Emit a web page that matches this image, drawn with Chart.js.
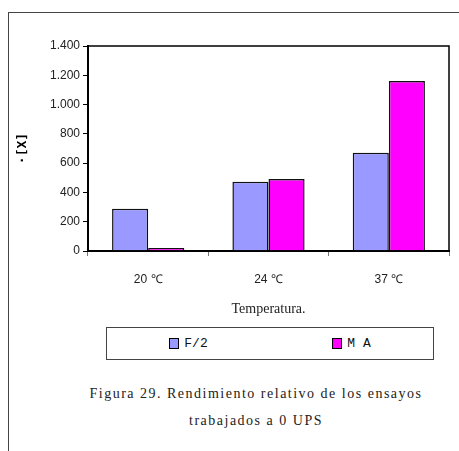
<!DOCTYPE html>
<html>
<head>
<meta charset="utf-8">
<script src="https://cdn.jsdelivr.net/npm/chart.js@4.4.1/dist/chart.umd.min.js"></script>
<style>
  html, body { margin: 0; padding: 0; background: #fff; }
  body { width: 459px; height: 451px; position: relative; overflow: hidden; }
  .frame {
    position: absolute; left: 8px; top: 12px; width: 460px; height: 450px;
    border-left: 1.5px solid #444; border-top: 1.5px solid #444;
  }
  .plot { position: absolute; left: 0; top: 0; width: 459px; height: 318px; }
  .legend {
    position: absolute; left: 106px; top: 327px; width: 326px; height: 31px;
    border: 1px solid #444; display: flex; align-items: center;
    font: 13px "Liberation Mono", monospace; color: #111;
  }
  .legend .item { flex: 1; display: flex; justify-content: center; align-items: center; }
  .legend .sw { width: 8px; height: 9px; border: 1.5px solid #000; margin-right: 5px; }
  .caption {
    position: absolute; left: 53px; width: 406px; top: 380px;
    text-align: center; font: 14px "Liberation Serif", serif; line-height: 27px;
    letter-spacing: 1.5px; color: #222;
  }
</style>
</head>
<body>
<div class="frame"></div>
<div class="plot"><canvas id="c"></canvas></div>
<div class="legend" id="legend"></div>
<div class="caption">Figura 29. Rendimiento relativo de los ensayos<br>trabajados a 0 UPS</div>
<script>
// Data
const categories = ["20 ℃", "24 ℃", "37 ℃"];
const seriesNames = ["F/2", "M A"];
const f2Values = [289, 473, 671];
const maValues = [20, 492, 1161];
const yTickLabels = ["0", "200", "400", "600", "800", "1.000", "1.200", "1.400"];
const xTitle = "Temperatura.";
const yTitle = "·[X]";

const colors = ["#9999FF", "#FF00FF"];

// full box round the plot area (Excel style)
const plotFrame = {
  id: "plotFrame",
  afterDatasetsDraw(chart) {
    const a = chart.chartArea, ctx = chart.ctx;
    ctx.save();
    ctx.strokeStyle = "#000";
    ctx.lineWidth = 1.5;
    ctx.strokeRect(a.left, a.top, a.right - a.left, a.bottom - a.top);
    ctx.restore();
  },
};

const chart = new Chart(document.getElementById("c"), {
  type: "bar",
  data: {
    labels: categories,
    datasets: [
      { label: seriesNames[0], data: f2Values, backgroundColor: colors[0], borderColor: "#111", borderWidth: 1.5 },
      { label: seriesNames[1], data: maValues, backgroundColor: colors[1], borderColor: "#111", borderWidth: 1.5 },
    ],
  },
  options: {
    responsive: true,
    maintainAspectRatio: false,
    animation: false,
    layout: { padding: { left: 10, right: 10, top: 46, bottom: 0 } },
    datasets: { bar: { categoryPercentage: 0.6, barPercentage: 1.0 } },
    plugins: { legend: { display: false }, tooltip: { enabled: false } },
    scales: {
      x: {
        afterFit(s) { s.height = 67; },
        grid: { drawOnChartArea: false, tickLength: 5, color: "#777" },
        border: { color: "#000", width: 2 },
        ticks: { padding: 16, color: "#222", font: { family: "Liberation Sans", size: 12 } },
        title: {
          display: true, text: xTitle, color: "#222",
          font: { family: "Liberation Serif", size: 14 },
          padding: { top: 10, bottom: 0 },
        },
      },
      y: {
        min: 0, max: 1400,
        afterFit(s) { s.width = 78; },
        grid: { drawOnChartArea: false, tickLength: 5, color: "#000" },
        border: { color: "#000", width: 2 },
        ticks: {
          stepSize: 200, padding: 3, color: "#222",
          font: { family: "Liberation Sans", size: 12 },
          callback: (v) => yTickLabels[Math.round(v / 200)],
        },
        title: {
          display: true, text: yTitle, color: "#000",
          font: { family: "DejaVu Sans Mono", size: 13, weight: "bold" },
          padding: { top: 5, bottom: 0 },
        },
      },
    },
  },
  plugins: [plotFrame],
});

// HTML legend built from the datasets
const legend = document.getElementById("legend");
chart.data.datasets.forEach((ds) => {
  const item = document.createElement("div");
  item.className = "item";
  item.innerHTML = `<span class="sw" style="background:${ds.backgroundColor}"></span><span>${ds.label}</span>`;
  legend.appendChild(item);
});
</script>
</body>
</html>
